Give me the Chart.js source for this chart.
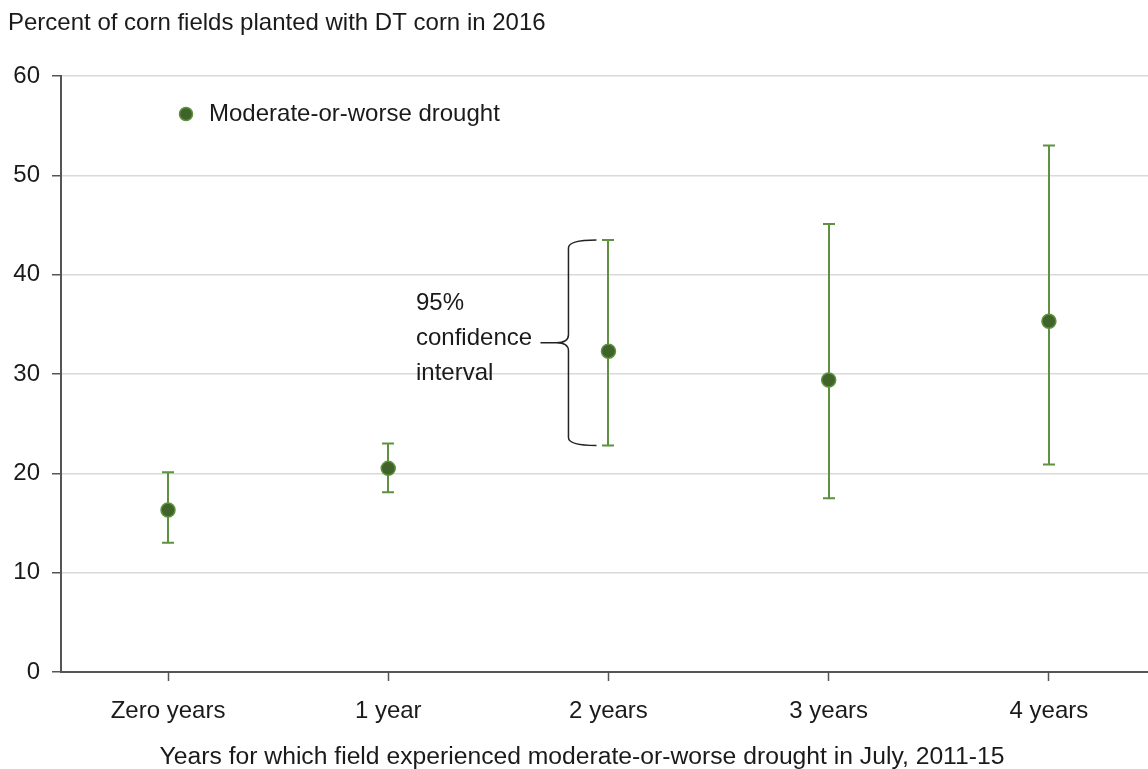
<!DOCTYPE html>
<html>
<head>
<meta charset="utf-8">
<script src="https://cdn.jsdelivr.net/npm/chart.js@4"></script>
<style>
html,body{margin:0;padding:0;background:#fff;overflow:hidden;}
#wrap{width:1148px;height:769px;position:relative;}
canvas{display:block;}
</style>
</head>
<body>
<div id="wrap"><canvas id="c" width="1148" height="769"></canvas></div>
<script>
// ---- data ----
const categories = ['Zero years', '1 year', '2 years', '3 years', '4 years'];
const estimates  = [16.3, 20.5, 32.3, 29.4, 35.3];
const ciLow      = [13.0, 18.1, 22.8, 17.5, 20.9];
const ciHigh     = [20.1, 23.0, 43.5, 45.1, 53.0];
const yTicks     = [0, 10, 20, 30, 40, 50, 60];
const seriesName = 'Moderate-or-worse drought';
const chartTitle = 'Percent of corn fields planted with DT corn in 2016';
const xAxisTitle = 'Years for which field experienced moderate-or-worse drought in July, 2011-15';
const braceText  = ['95%', 'confidence', 'interval'];
const braceIndex = 2;

// ---- styles ----
const FONT = "'Liberation Sans', Arial, Helvetica, sans-serif";
const TEXT = '#1a1a1a';
const AXIS = '#555555';
const GRID = '#d9d9d9';
const BAR  = '#5e9140';
const PT_FILL = '#3f6328';
const PT_EDGE = '#5e9140';

const errorBars = {
  id: 'errorBars',
  beforeDatasetsDraw(chart) {
    const {ctx, scales: {x, y}} = chart;
    ctx.save();
    ctx.strokeStyle = BAR;
    ctx.lineWidth = 2;
    for (let i = 0; i < estimates.length; i++) {
      const px = Math.round(x.getPixelForValue(i));
      const yl = y.getPixelForValue(ciLow[i]);
      const yh = y.getPixelForValue(ciHigh[i]);
      ctx.beginPath();
      ctx.moveTo(px, yl); ctx.lineTo(px, yh);
      ctx.moveTo(px - 6, yl); ctx.lineTo(px + 6, yl);
      ctx.moveTo(px - 6, yh); ctx.lineTo(px + 6, yh);
      ctx.stroke();
    }
    ctx.restore();
  }
};

const annotations = {
  id: 'annotations',
  afterDraw(chart) {
    const {ctx, scales: {x, y}} = chart;
    ctx.save();
    ctx.fillStyle = TEXT;
    ctx.font = '24px ' + FONT;
    ctx.textBaseline = 'middle';
    ctx.textAlign = 'left';
    // title
    ctx.fillText(chartTitle, 8, 23);
    // x axis title
    ctx.textAlign = 'center';
    ctx.font = '24.7px ' + FONT;
    ctx.fillText(xAxisTitle, 582, 757);
    ctx.font = '24px ' + FONT;
    // legend
    ctx.beginPath();
    ctx.arc(186, 114, 6.5, 0, Math.PI * 2);
    ctx.fillStyle = PT_FILL; ctx.fill();
    ctx.lineWidth = 1.5; ctx.strokeStyle = PT_EDGE; ctx.stroke();
    ctx.fillStyle = TEXT;
    ctx.textAlign = 'left';
    ctx.fillText(seriesName, 209, 114);
    // brace annotation for the confidence interval
    const px = x.getPixelForValue(braceIndex);
    const top = y.getPixelForValue(ciHigh[braceIndex]);
    const bot = y.getPixelForValue(ciLow[braceIndex]);
    const mid = (top + bot) / 2;
    const bx = px - 40;
    const r = 8;
    ctx.strokeStyle = '#222';
    ctx.lineWidth = 1.5;
    ctx.beginPath();
    ctx.moveTo(px - 12, top);
    ctx.quadraticCurveTo(bx, top, bx, top + r);
    ctx.lineTo(bx, mid - r);
    ctx.quadraticCurveTo(bx, mid, bx - 12, mid);
    ctx.quadraticCurveTo(bx, mid, bx, mid + r);
    ctx.lineTo(bx, bot - r);
    ctx.quadraticCurveTo(bx, bot, px - 12, bot);
    ctx.moveTo(bx - 12, mid);
    ctx.lineTo(bx - 28, mid);
    ctx.stroke();
    ctx.fillStyle = TEXT;
    ctx.textAlign = 'left';
    braceText.forEach((t, k) => ctx.fillText(t, 416, mid + (k - 1) * 35 - 4));
    ctx.restore();
  }
};

new Chart(document.getElementById('c'), {
  type: 'scatter',
  data: {
    datasets: [{
      label: seriesName,
      data: estimates.map((v, i) => ({x: i, y: v})),
      backgroundColor: PT_FILL,
      borderColor: PT_EDGE,
      borderWidth: 1.5,
      pointRadius: 7,
      pointHoverRadius: 7
    }]
  },
  options: {
    responsive: false,
    animation: false,
    devicePixelRatio: 1,
    layout: {autoPadding: false, padding: {top: 76, left: 0, right: 0, bottom: 0}},
    plugins: {legend: {display: false}, tooltip: {enabled: false}, title: {display: false}},
    scales: {
      x: {
        type: 'linear',
        min: -0.486,
        max: 4.45,
        afterBuildTicks(s) { s.ticks = categories.map((c, i) => ({value: i})); },
        afterFit(s) { s.height = 97; s.paddingLeft = 0; s.paddingRight = 0; },
        ticks: {
          callback: (v) => categories[v],
          font: {family: FONT, size: 24},
          color: TEXT,
          padding: 16,
          maxRotation: 0,
          autoSkip: false
        },
        grid: {drawOnChartArea: false, tickLength: 9, tickColor: AXIS, tickWidth: 1.5},
        border: {color: AXIS, width: 2}
      },
      y: {
        min: 0,
        max: 60,
        afterBuildTicks(s) { s.ticks = yTicks.map(v => ({value: v})); },
        afterFit(s) { s.width = 61; },
        ticks: {
          font: {family: FONT, size: 24},
          color: TEXT,
          padding: 12
        },
        grid: {color: GRID, lineWidth: 1.5, tickLength: 9, tickColor: AXIS, tickWidth: 1.5},
        border: {color: AXIS, width: 2}
      }
    }
  },
  plugins: [errorBars, annotations]
});
</script>
</body>
</html>
